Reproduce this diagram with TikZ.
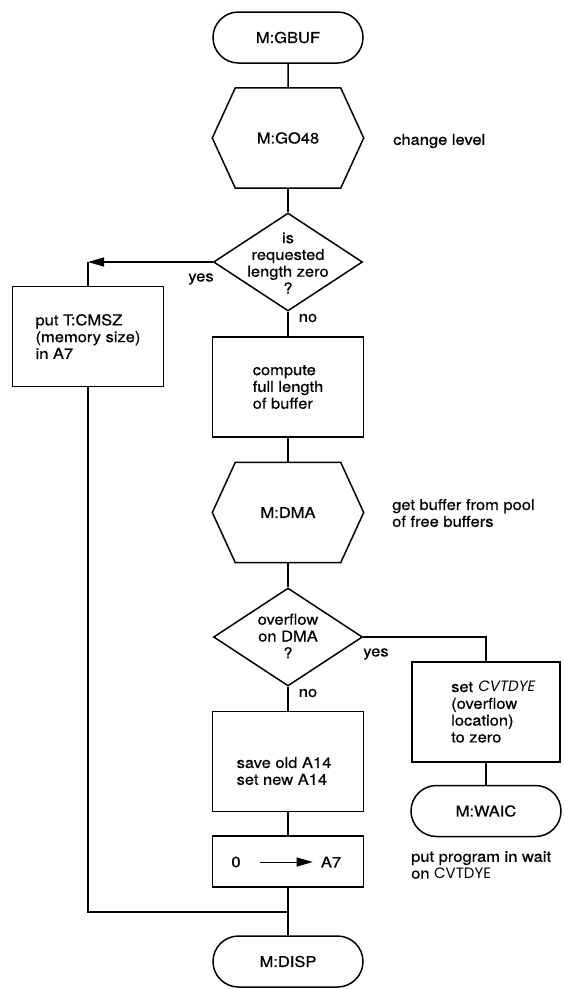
\documentclass[tikz,border=0pt]{standalone}
\usepackage{fontspec}
\setmainfont{TeX Gyre Heros}[FakeStretch=1.1,FakeBold=0.5]
\newfontfamily\lettering{Poppins}
\newfontfamily\letteringslant{Poppins}[FakeSlant=0.18]
\usetikzlibrary{shapes.geometric,shapes.misc,arrows.meta}

% hexagonal "call" outline drawn over a named rectangular node
\newcommand\hexoutline[1]{%
  \draw[flow,line join=miter] (#1.west) -- ([xshift=23pt]#1.north west)
    -- ([xshift=-23pt]#1.north east) -- (#1.east)
    -- ([xshift=-23pt]#1.south east) -- ([xshift=23pt]#1.south west) -- cycle;}

\begin{document}
\begin{tikzpicture}[x=1pt,y=-1pt,
  every node/.style={font=\fontsize{15}{16.8}\selectfont},
  flow/.style={line width=1.5pt},
  tip/.style={-{Triangle[length=16pt,width=9pt]}},
  term/.style={draw,line width=1.5pt,rounded rectangle,minimum width=150pt,minimum height=51pt,inner sep=0pt},
  hexarea/.style={minimum width=151pt,minimum height=100pt,inner sep=0pt},
  decision/.style={draw,line width=1.5pt,diamond,minimum width=149pt,minimum height=98pt,inner sep=0pt},
  procbox/.style={draw,line width=1.5pt,minimum width=151pt,minimum height=100pt,inner sep=0pt,align=left},
  txt/.style={inner sep=0pt,align=center},
  note/.style={inner sep=0pt,anchor=west,align=left}
]
\useasboundingbox (0,0) rectangle (565,989);
\fill[white] (0,0) rectangle (565,989);

% main column
\node[term] (gbuf) at (288,37.5) {M:GBUF};
\node[hexarea] (go48) at (288,138) {M:GO48};
\hexoutline{go48}
\node[note] (lvl) at (393,141) {change level};

\node[decision] (d1) at (288,262) {};
\node[txt] (d1t) at (288,263) {is\\requested\\length zero\\?};
\node[txt] (yes1) at (201,279) {yes};
\node[txt] (no1) at (308,318) {no};

\node[procbox] (comp) at (288,387) {compute\\full length\\of buffer};
\node[procbox] (put) at (88,336.5) {put T:CMSZ\\(memory size)\\in A7};

\node[hexarea] (dma) at (288,512.5) {M:DMA};
\hexoutline{dma}
\node[note] (pool) at (392,513) {get buffer from pool\\of free buffers};

\node[decision] (d2) at (288,637) {};
\node[txt] (d2t) at (288,636) {overflow\\on DMA\\?};
\node[txt] (yes2) at (376,654) {yes};
\node[txt] (no2) at (308,693) {no};

\node[procbox] (save) at (288,761.5) {};
\node[txt,align=left] (savet) at (284,771) {save old A14\\set new A14};

\node[procbox,minimum height=51pt] (mv) at (288,861.5) {};
\node[txt] (zero) at (236,862) {0};
\node[txt] (areg) at (331,862) {A7};
\draw[line width=1pt,tip,shorten <=19pt,shorten >=8pt] (zero) -- (areg);

\node[term] (disp) at (288,961.5) {M:DISP};

% overflow branch
\node[procbox,minimum width=148pt] (setz) at (486,712) {};
\node[txt,anchor=west,align=left] (setzt) at (451,712)
  {set {\letteringslant CVTDYE}\\(overflow\\location)\\to zero};
\node[term] (waic) at (486,811) {M:WAIC};
\node[note] (waitnote) at (411,865) {put program in wait\\on {\lettering CVTDYE}};

% connectors
\draw[flow] (gbuf) -- (go48);
\draw[flow] (go48) -- (d1);
\draw[flow] (d1) -- (comp);
\draw[flow] (comp) -- (dma);
\draw[flow] (dma) -- (d2);
\draw[flow] (d2) -- (save);
\draw[flow] (save) -- (mv);
\draw[flow] (mv) -- (disp);

\coordinate (c1) at (88,262);
\draw[flow,tip] (d1.west) -- (c1);
\draw[flow] (c1) -- (put);
\coordinate (m) at (288,912);
\draw[flow] (put.south) |- (m);

\draw[flow] (d2.east) -| (setz.north);
\draw[flow] (setz) -- (waic);
\end{tikzpicture}
\end{document}
